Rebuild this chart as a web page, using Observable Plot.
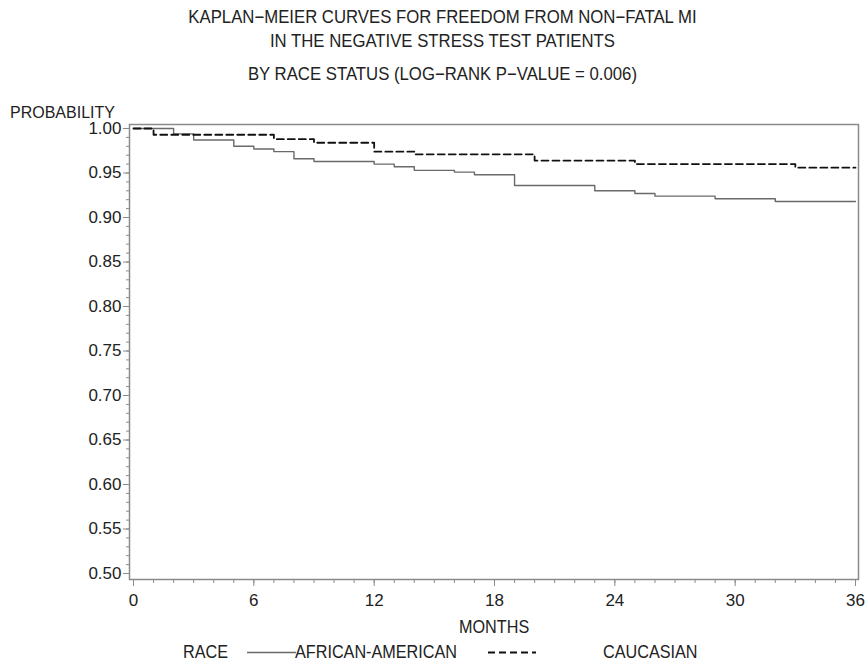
<!DOCTYPE html>
<html>
<head>
<meta charset="utf-8">
<script src="https://cdn.jsdelivr.net/npm/d3@7"></script>
<script src="https://cdn.jsdelivr.net/npm/@observablehq/plot@0.6"></script>
<style>
  body { margin: 0; background: #fff; }
  #wrap { position: relative; width: 865px; height: 666px; overflow: hidden; background: #fff;
          font-family: "Liberation Sans", Arial, sans-serif; color: #222; }
  .line { position: absolute; left: 10px; width: 865px; text-align: center; font-size: 18px; line-height: 22px;
          white-space: nowrap; transform: scaleX(0.93); transform-origin: 432px 0; z-index: 2; }
  .lab { position: absolute; font-size: 18px; line-height: 22px; white-space: nowrap;
         transform: scaleX(0.9); transform-origin: 0 0; z-index: 2; }
  #ylab { position: absolute; left: 10px; top: 104px; font-size: 16px; line-height: 18px; white-space: nowrap; z-index: 2; }
  #chart { position: absolute; left: 0; top: 100px; z-index: 1; }
  #legend { position: absolute; left: 0; top: 641px; width: 865px; height: 24px; z-index: 2; }
  #legend svg { position: absolute; top: 0; }
</style>
</head>
<body>
<div id="wrap">
  <div class="line" style="top:6px">KAPLAN−MEIER CURVES FOR FREEDOM FROM NON−FATAL MI</div>
  <div class="line" style="top:30px">IN THE NEGATIVE STRESS TEST PATIENTS</div>
  <div class="line" style="top:63px">BY RACE STATUS (LOG−RANK P−VALUE = 0.006)</div>
  <div id="chart"></div>
  <div id="ylab">PROBABILITY</div>
  <div class="lab" style="left:459px;top:616px">MONTHS</div>
  <div id="legend"></div>
</div>
<script>
// Kaplan–Meier step estimates: month of each drop and survival after it
const aaMonths = [0, 2, 3, 5, 6, 7, 8, 9, 12, 13, 14, 16, 17, 19, 23, 25, 26, 29, 32, 36];
const aaSurv   = [1.000, 0.994, 0.987, 0.980, 0.977, 0.974, 0.966, 0.963, 0.960, 0.957, 0.953,
                  0.951, 0.948, 0.936, 0.930, 0.927, 0.924, 0.921, 0.918, 0.918];
const caMonths = [0, 1, 7, 9, 12, 14, 20, 25, 33, 36];
const caSurv   = [1.000, 0.993, 0.988, 0.984, 0.974, 0.971, 0.964, 0.960, 0.956, 0.956];

const groups = ["AFRICAN-AMERICAN", "CAUCASIAN"];
const xTicks = [0, 6, 12, 18, 24, 30, 36];
const yTicks = [0.50, 0.55, 0.60, 0.65, 0.70, 0.75, 0.80, 0.85, 0.90, 0.95, 1.00];

const aa = aaMonths.map((m, i) => ({month: m, surv: aaSurv[i], race: groups[0]}));
const ca = caMonths.map((m, i) => ({month: m, surv: caSurv[i], race: groups[1]}));

const xMinor = d3.range(0, 37);
const yMinor = d3.range(50, 101).map(d => d / 100);

const axisColor = "#8a8a8a";
const solidColor = "#6a6a6a";
const dashColor = "#111";

const chart = Plot.plot({
  width: 865,
  height: 540,
  marginLeft: 129,
  marginRight: 7,
  marginTop: 24,
  marginBottom: 61,
  style: {fontFamily: '"Liberation Sans", Arial, sans-serif', fontSize: "17px", color: "#222", background: "transparent"},
  x: {domain: [0, 36], insetLeft: 4, insetRight: 3, axis: null},
  y: {domain: [0.5, 1], insetTop: 4, insetBottom: 6, axis: null},
  marks: [
    Plot.frame({stroke: axisColor, strokeWidth: 1.5}),
    Plot.axisY(yMinor, {anchor: "left", tickSize: 3, text: null, label: null, stroke: axisColor}),
    Plot.axisY(yTicks, {anchor: "left", tickSize: 6, tickPadding: 2, tickFormat: d3.format(".2f"),
                        label: null, stroke: axisColor, fill: "#222"}),
    Plot.axisX(xMinor, {anchor: "bottom", tickSize: 4, text: null, label: null, stroke: axisColor}),
    Plot.axisX(xTicks, {anchor: "bottom", tickSize: 7, tickPadding: 7, label: null,
                        stroke: axisColor, fill: "#222"}),
    Plot.line(aa, {x: "month", y: "surv", curve: "step-after", stroke: solidColor, strokeWidth: 1.4}),
    Plot.line(ca, {x: "month", y: "surv", curve: "step-after", stroke: dashColor, strokeWidth: 1.8,
                   strokeDasharray: "7,4"})
  ]
});
document.getElementById("chart").append(chart);

// Legend row: group name, line samples, series labels
document.getElementById("legend").innerHTML = `
  <span class="lab" style="left:183px;top:0">RACE</span>
  <svg style="left:247px" width="49" height="22">
    <line x1="0" x2="49" y1="11.5" y2="11.5" stroke="${solidColor}" stroke-width="1.4"/></svg>
  <span class="lab" style="left:295px;top:0">${groups[0]}</span>
  <svg style="left:488px" width="48" height="22">
    <line x1="0" x2="48" y1="11.5" y2="11.5" stroke="${dashColor}" stroke-width="1.8" stroke-dasharray="7,4"/></svg>
  <span class="lab" style="left:603px;top:0">${groups[1]}</span>`;
</script>
</body>
</html>
